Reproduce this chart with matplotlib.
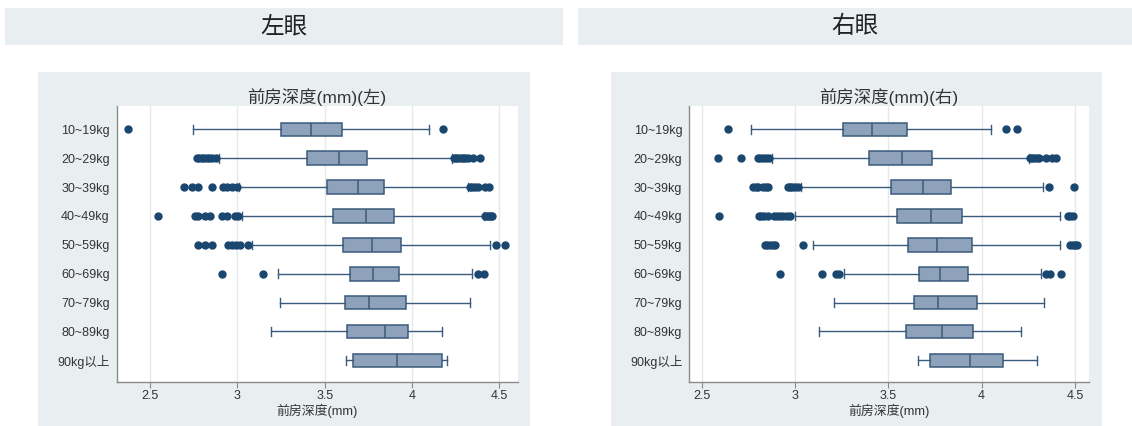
import numpy as np
import matplotlib
matplotlib.use("Agg")
import matplotlib.pyplot as plt
from matplotlib.patches import Rectangle

plt.rcParams['font.family'] = ['Liberation Sans', 'Noto Sans CJK SC']

categories = ['10~19kg', '20~29kg', '30~39kg', '40~49kg', '50~59kg',
              '60~69kg', '70~79kg', '80~89kg', '90kg以上']
x_ticks = [2.5, 3, 3.5, 4, 4.5]
x_tick_labels = ['2.5', '3', '3.5', '4', '4.5']

# left eye
left_q1 = [3.25, 3.40, 3.515, 3.55, 3.605, 3.645, 3.615, 3.627, 3.665]
left_med = [3.42, 3.58, 3.69, 3.735, 3.773, 3.779, 3.754, 3.846, 3.915]
left_q3 = [3.60, 3.74, 3.84, 3.90, 3.94, 3.925, 3.965, 3.975, 4.17]
left_lo = [2.748, 2.897, 3.01, 3.025, 3.086, 3.231, 3.244, 3.192, 3.625]
left_hi = [4.095, 4.23, 4.32, 4.41, 4.445, 4.344, 4.334, 4.174, 4.20]
left_out = [
    [2.376, 4.18],
    [2.767, 2.782, 2.796, 2.81, 2.825, 2.84, 2.853, 2.878,
     4.24, 4.255, 4.265, 4.28, 4.29, 4.305, 4.32, 4.35, 4.39],
    [2.697, 2.742, 2.773, 2.857, 2.916, 2.939, 2.968, 3.0,
     4.33, 4.345, 4.36, 4.376, 4.42, 4.44],
    [2.548, 2.758, 2.777, 2.815, 2.844, 2.914, 2.939, 2.987, 3.006,
     4.42, 4.43, 4.44, 4.45, 4.46],
    [2.777, 2.815, 2.857, 2.945, 2.968, 2.991, 3.015, 3.06, 4.483, 4.53],
    [2.914, 3.149, 4.38, 4.41],
    [], [], [],
]

# right eye
right_q1 = [3.255, 3.396, 3.514, 3.545, 3.607, 3.664, 3.637, 3.595, 3.724]
right_med = [3.411, 3.571, 3.686, 3.73, 3.759, 3.775, 3.768, 3.789, 3.9375]
right_q3 = [3.598, 3.736, 3.8375, 3.896, 3.946, 3.929, 3.977, 3.955, 4.116]
right_lo = [2.762, 2.875, 3.03, 3.0, 3.098, 3.2625, 3.211, 3.13, 3.661]
right_hi = [4.048, 4.254, 4.329, 4.418, 4.418, 4.318, 4.336, 4.209, 4.298]
right_out = [
    [2.639, 4.129, 4.1875],
    [2.589, 2.711, 2.80, 2.815, 2.83, 2.845, 2.86,
     4.26, 4.27, 4.28, 4.295, 4.307, 4.343, 4.379, 4.40],
    [2.777, 2.79, 2.80, 2.83, 2.845, 2.857, 2.964, 2.975, 2.985, 3.0, 3.018,
     4.36, 4.497],
    [2.593, 2.81, 2.82, 2.835, 2.857, 2.89, 2.905, 2.92, 2.937, 2.955, 2.973,
     4.465, 4.475, 4.49],
    [2.84, 2.85, 2.865, 2.88, 2.895, 3.041, 4.475, 4.49, 4.50, 4.51],
    [2.92, 3.143, 3.22, 3.237, 4.343, 4.364, 4.423],
    [], [], [],
]

W, H = 1132, 426
BG = '#e9eff1'
FILL = '#8ea3bb'
EDGE = '#3b5b7c'
DOT = '#1a476f'


def px_rect(x0, y0, x1, y1):
    # pixel box (top-left origin) -> figure fraction rect
    return [x0 / W, 1 - y1 / H, (x1 - x0) / W, (y1 - y0) / H]


def add_band(fig, x0, y0, x1, y1):
    r = px_rect(x0, y0, x1, y1)
    fig.add_artist(Rectangle((r[0], r[1]), r[2], r[3], transform=fig.transFigure,
                             facecolor=BG, edgecolor='none', zorder=0))


def draw_panel(ax, q1, med, q3, lo, hi, out, xlim, title):
    stats = []
    for i in range(len(categories)):
        stats.append(dict(label=categories[i], q1=q1[i], med=med[i], q3=q3[i],
                          whislo=lo[i], whishi=hi[i], fliers=np.array(out[i])))
    ax.bxp(stats, positions=np.arange(1, len(categories) + 1), orientation='horizontal',
           widths=0.47, capwidths=0.3, patch_artist=True,
           boxprops=dict(facecolor=FILL, edgecolor=EDGE, linewidth=1.1),
           medianprops=dict(color=EDGE, linewidth=1.1),
           whiskerprops=dict(color=EDGE, linewidth=1.0),
           capprops=dict(color=EDGE, linewidth=1.0),
           flierprops=dict(marker='o', markerfacecolor=DOT, markeredgecolor=DOT,
                           markersize=5))
    ax.set_xlim(*xlim)
    ax.set_ylim(9.75, 0.19)
    ax.set_xticks(x_ticks)
    ax.set_xticklabels(x_tick_labels)
    ax.grid(axis='x', color='#e6e8ea', linewidth=1.0, zorder=0)
    ax.set_axisbelow(True)
    ax.set_facecolor('white')
    for s in ['top', 'right']:
        ax.spines[s].set_visible(False)
    for s in ['left', 'bottom']:
        ax.spines[s].set_color('#8a8a8a')
        ax.spines[s].set_linewidth(1.0)
    ax.tick_params(axis='y', length=0, pad=5, labelsize=9, labelcolor='#333333')
    ax.tick_params(axis='x', length=4, width=0.8, color='#8a8a8a', pad=2,
                   labelsize=9, labelcolor='#333333')
    ax.set_xlabel('前房深度(mm)', fontsize=9.3, color='#333333', labelpad=1)
    ax.set_title(title, fontsize=12.5, color='#333333', pad=1)


fig = plt.figure(figsize=(W / 100, H / 100), dpi=100)
fig.patch.set_facecolor('white')

# left
add_band(fig, 5, 8, 563, 45)
add_band(fig, 38, 72, 530, 426)
fig.text(284 / W, 1 - 26.5 / H, '左眼', fontsize=17, ha='center', va='center',
         color='#222222', family=['Noto Sans CJK SC'])
ax1 = fig.add_axes(px_rect(116.5, 106, 517.6, 382))
draw_panel(ax1, left_q1, left_med, left_q3, left_lo, left_hi, left_out,
           (2.308, 4.605), '前房深度(mm)(左)')

# right
add_band(fig, 578, 8, 1132, 45)
add_band(fig, 611, 72, 1102, 426)
fig.text(855 / W, 1 - 26.5 / H, '右眼', fontsize=17, ha='center', va='center',
         color='#222222', family=['Noto Sans CJK SC'])
ax2 = fig.add_axes(px_rect(689.3, 106, 1089, 382))
draw_panel(ax2, right_q1, right_med, right_q3, right_lo, right_hi, right_out,
           (2.434, 4.575), '前房深度(mm)(右)')

fig.savefig('out.png', dpi=100)
